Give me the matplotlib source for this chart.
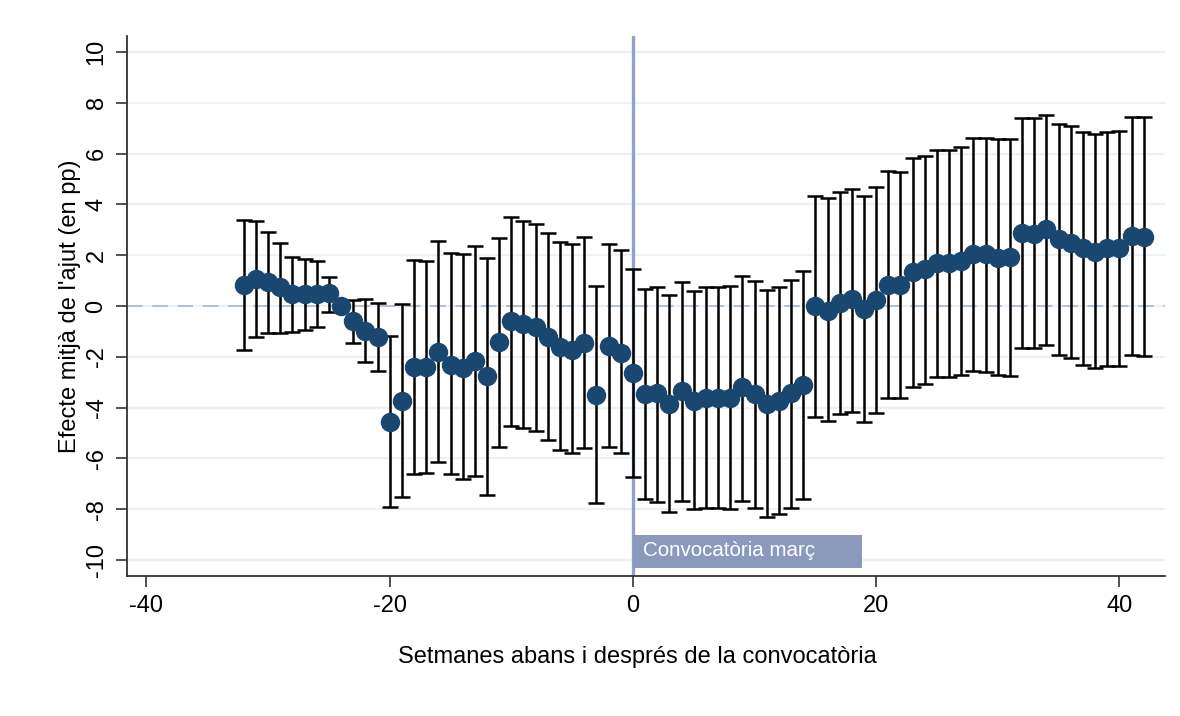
import matplotlib
matplotlib.use("Agg")
import matplotlib.pyplot as plt
from matplotlib.patches import Rectangle
import numpy as np

weeks = list(range(-32, 43))
effect = [0.83, 1.05, 0.96, 0.74, 0.47, 0.47, 0.47, 0.50, 0.00, -0.58, -0.98, -1.23,
          -4.55, -3.74, -2.41, -2.41, -1.80, -2.32, -2.43, -2.15, -2.76, -1.43,
          -0.59, -0.71, -0.81, -1.21, -1.60, -1.73, -1.44, -3.50, -1.57, -1.84,
          -2.65, -3.46, -3.44, -3.86, -3.33, -3.73, -3.64, -3.64, -3.64, -3.20,
          -3.46, -3.86, -3.73, -3.44, -3.11, 0.00, -0.18, 0.10, 0.26, -0.13, 0.24,
          0.83, 0.83, 1.33, 1.44, 1.68, 1.68, 1.78, 2.05, 2.05, 1.88, 1.92, 2.86,
          2.83, 3.02, 2.62, 2.49, 2.27, 2.14, 2.27, 2.27, 2.76, 2.73]
upper = [3.39, 3.36, 2.93, 2.47, 1.94, 1.85, 1.77, 1.15, 0.00, 0.24, 0.26, 0.13,
         -1.18, 0.09, 1.81, 1.77, 2.56, 2.07, 2.03, 2.36, 1.90, 2.68,
         3.52, 3.36, 3.23, 2.89, 2.53, 2.43, 2.70, 0.80, 2.44, 2.20,
         1.46, 0.67, 0.73, 0.42, 0.94, 0.58, 0.76, 0.76, 0.79, 1.19,
         0.98, 0.63, 0.76, 1.02, 1.39, 4.34, 4.24, 4.47, 4.61, 4.33, 4.70,
         5.31, 5.29, 5.81, 5.91, 6.14, 6.14, 6.27, 6.60, 6.60, 6.56, 6.56, 7.39,
         7.39, 7.51, 7.17, 7.09, 6.86, 6.76, 6.86, 6.89, 7.45, 7.45]
lower = [-1.73, -1.21, -1.05, -1.08, -1.04, -0.94, -0.84, -0.22, 0.00, -1.44, -2.20, -2.55,
         -7.91, -7.53, -6.63, -6.56, -6.16, -6.63, -6.81, -6.68, -7.43, -5.56,
         -4.71, -4.82, -4.92, -5.28, -5.67, -5.77, -5.60, -7.77, -5.56, -5.80,
         -6.73, -7.61, -7.70, -8.10, -7.67, -8.00, -7.97, -7.97, -7.99, -7.67,
         -7.94, -8.29, -8.19, -7.97, -7.61, -4.38, -4.53, -4.25, -4.16, -4.58, -4.22,
         -3.63, -3.63, -3.18, -3.07, -2.81, -2.81, -2.72, -2.55, -2.59, -2.72, -2.76, -1.67,
         -1.67, -1.54, -1.93, -2.06, -2.32, -2.43, -2.36, -2.35, -1.93, -1.95]

x_ticks = [-40, -20, 0, 20, 40]
y_ticks = [-10, -8, -6, -4, -2, 0, 2, 4, 6, 8, 10]
event_week = 0
label_text = "Convocatòria març"
xlabel = "Setmanes abans i després de la convocatòria"
ylabel = "Efecte mitjà de l'ajut (en pp)"

plt.rcParams['font.family'] = ['Liberation Sans', 'DejaVu Sans']
plt.rcParams['axes.unicode_minus'] = False

fig = plt.figure(figsize=(11.8, 7.16), dpi=100)
ax = fig.add_axes([127/1180, 1-576/716, (1165-127)/1180, (576-36)/716])

x = np.array(weeks)
e = np.array(effect)
up = np.array(upper)
lo = np.array(lower)

ax.set_xlim(-41.6, 43.75)
ax.set_ylim(-10.63, 10.63)

for yt in y_ticks:
    ax.axhline(yt, color='#EAF2F3', lw=1.6, zorder=0)
ax.axhline(0, color='#B4BED6', lw=1.4, ls=(0, (8, 5)), zorder=1)
ax.axvline(event_week, color='#93A3C8', lw=2.4, zorder=1)

ax.errorbar(x, e, yerr=[e - lo, up - e], fmt='none', ecolor='black',
            elinewidth=1.8, capsize=5.5, capthick=1.8, zorder=2)
ax.plot(x, e, 'o', color='#1A476F', ms=13, mec='#1A476F', zorder=3)

ax.add_patch(Rectangle((event_week, -10.3), 18.8, 1.3, fc='#8A99BC', ec='none', zorder=4))
ax.text(event_week + 0.8, -9.63, label_text, color='white', fontsize=14.8,
        va='center', ha='left', zorder=5)

for s in ['top', 'right']:
    ax.spines[s].set_visible(False)
for s in ['left', 'bottom']:
    ax.spines[s].set_color('#333333')
    ax.spines[s].set_linewidth(1.3)

ax.set_xticks(x_ticks)
ax.set_yticks(y_ticks)
ax.tick_params(axis='both', direction='out', length=8, width=1.3, color='#444444',
               labelsize=17, pad=6)
plt.setp(ax.get_yticklabels(), rotation=90, va='center')
ax.set_xlabel(xlabel, fontsize=17)
ax.xaxis.set_label_coords((637.5 - 127) / 1038, (576 - 657) / 540)
ax.xaxis.label.set_va('center')
ax.set_ylabel(ylabel, fontsize=17)
ax.yaxis.set_label_coords((70 - 127) / 1038, 0.5)
ax.yaxis.label.set_va('center')

fig.savefig('out.png', dpi=100, facecolor='white')
